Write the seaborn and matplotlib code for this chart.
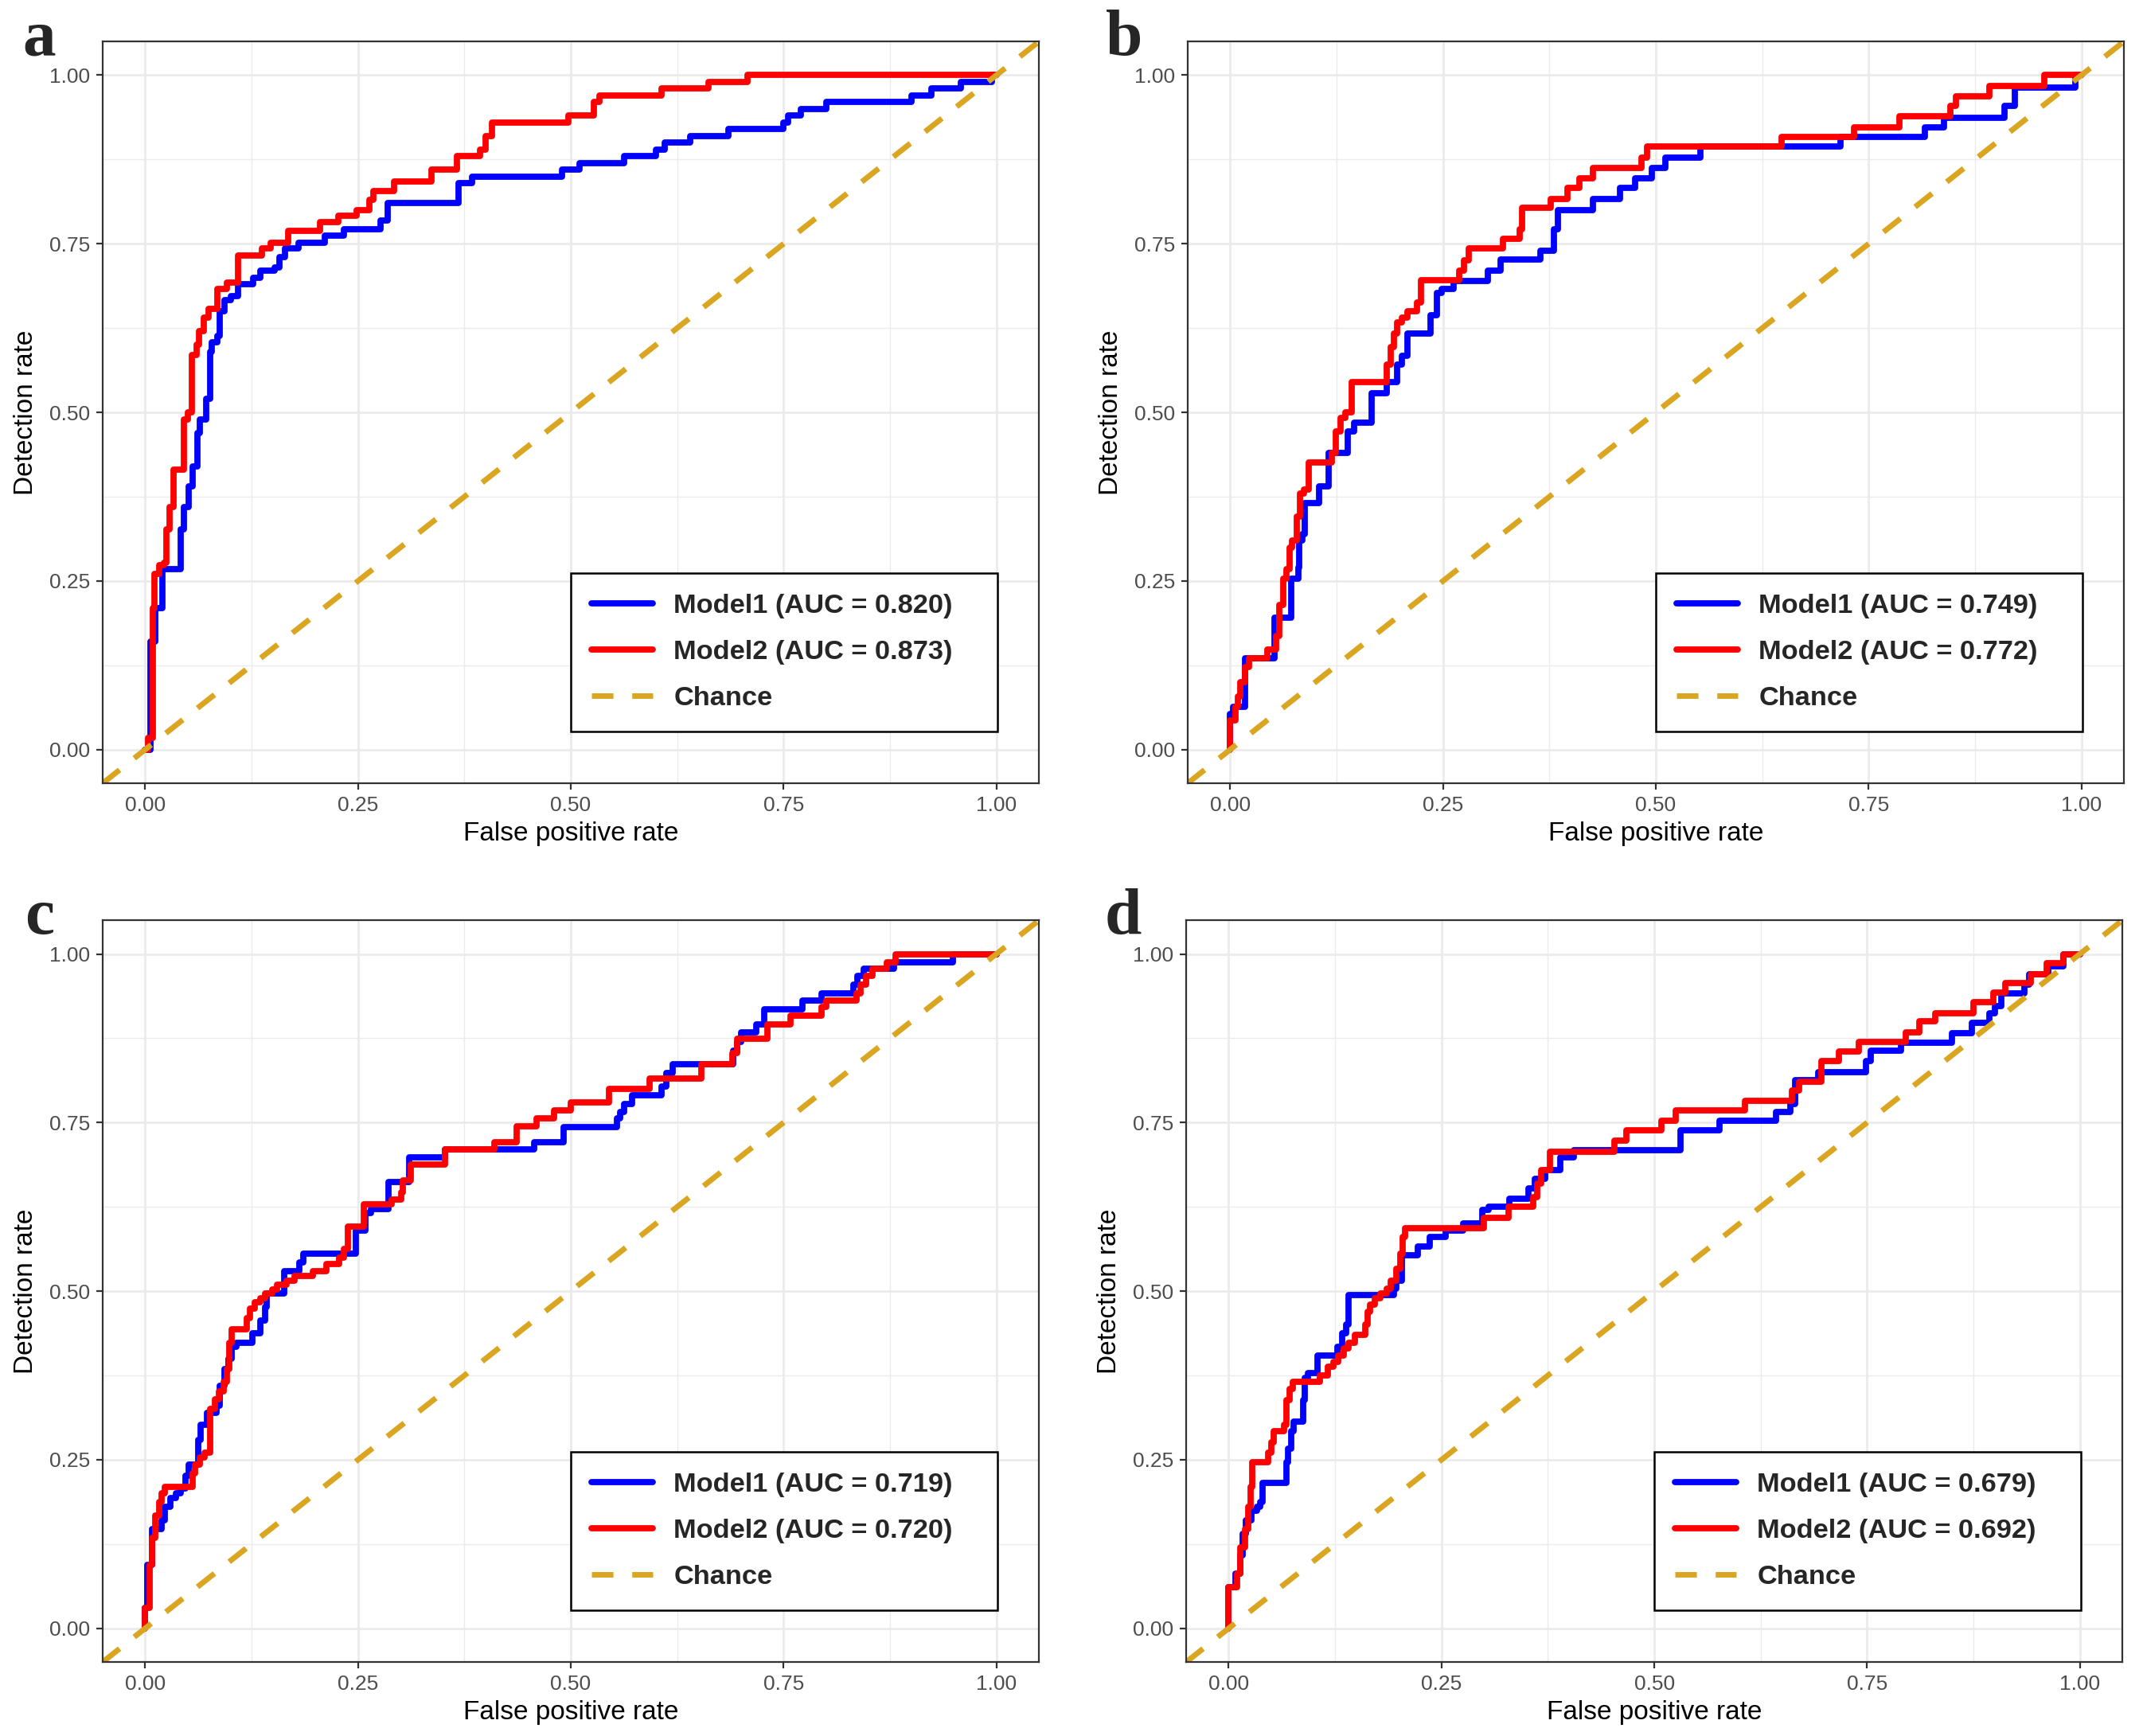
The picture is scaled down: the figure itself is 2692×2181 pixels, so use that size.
import numpy as np
import pandas as pd
import matplotlib
matplotlib.use("Agg")
from matplotlib import pyplot as plt
from matplotlib.ticker import MultipleLocator, FormatStrFormatter
import seaborn as sns

# ROC curves: each point is (fpr where the curve rises, tpr after the rise)
a_m1_fpr = [0, 0.006, 0.012, 0.020, 0.042, 0.045, 0.051, 0.056, 0.061, 0.064, 0.072, 0.076, 0.078, 0.085, 0.088, 0.093,
            0.101, 0.109, 0.127, 0.135, 0.152, 0.158, 0.164, 0.180, 0.211, 0.233, 0.276, 0.285, 0.368, 0.384, 0.490, 0.510,
            0.563, 0.600, 0.610, 0.640, 0.685, 0.750, 0.755, 0.770, 0.800, 0.900, 0.924, 0.958, 0.995, 1.0]
a_m1_tpr = [0, 0.160, 0.210, 0.267, 0.327, 0.360, 0.390, 0.420, 0.470, 0.490, 0.520, 0.590, 0.604, 0.614, 0.650, 0.667,
            0.673, 0.690, 0.700, 0.710, 0.715, 0.730, 0.743, 0.752, 0.762, 0.772, 0.785, 0.811, 0.840, 0.850, 0.860, 0.870,
            0.880, 0.890, 0.900, 0.910, 0.920, 0.930, 0.940, 0.950, 0.960, 0.970, 0.980, 0.990, 1.0, 1.0]
a_m2_fpr = [0, 0.003, 0.009, 0.011, 0.016, 0.022, 0.025, 0.029, 0.033, 0.045, 0.050, 0.055, 0.060, 0.063, 0.069, 0.074,
            0.085, 0.096, 0.109, 0.137, 0.147, 0.168, 0.205, 0.227, 0.248, 0.263, 0.268, 0.292, 0.336, 0.366, 0.393, 0.400,
            0.407, 0.497, 0.527, 0.534, 0.607, 0.662, 0.708, 1.0]
a_m2_tpr = [0, 0.017, 0.210, 0.260, 0.274, 0.277, 0.327, 0.360, 0.415, 0.490, 0.500, 0.585, 0.600, 0.620, 0.640, 0.654,
            0.683, 0.693, 0.733, 0.743, 0.752, 0.769, 0.782, 0.792, 0.800, 0.815, 0.828, 0.842, 0.860, 0.880, 0.890, 0.910,
            0.930, 0.940, 0.960, 0.970, 0.980, 0.990, 1.0, 1.0]

b_m1_fpr = [0, 0, 0.003, 0.017, 0.052, 0.072, 0.080, 0.081, 0.085, 0.088, 0.104, 0.116, 0.138, 0.146, 0.166, 0.184, 0.196,
            0.202, 0.208, 0.235, 0.243, 0.248, 0.262, 0.303, 0.318, 0.364, 0.380, 0.385, 0.426, 0.458, 0.476, 0.495,
            0.511, 0.552, 0.717, 0.816, 0.839, 0.910, 0.922, 0.993, 1.0]
b_m1_tpr = [0, 0.053, 0.063, 0.135, 0.195, 0.254, 0.270, 0.310, 0.320, 0.366, 0.390, 0.440, 0.472, 0.485, 0.528, 0.545,
            0.571, 0.584, 0.617, 0.644, 0.677, 0.683, 0.695, 0.710, 0.727, 0.740, 0.772, 0.800, 0.817, 0.833, 0.847,
            0.862, 0.878, 0.894, 0.908, 0.923, 0.937, 0.955, 0.982, 1.0, 1.0]
b_m2_fpr = [0, 0, 0.006, 0.009, 0.012, 0.017, 0.022, 0.044, 0.054, 0.058, 0.062, 0.066, 0.070, 0.073, 0.078, 0.082, 0.087,
            0.092, 0.119, 0.124, 0.130, 0.135, 0.143, 0.184, 0.189, 0.192, 0.196, 0.202, 0.208, 0.219, 0.224, 0.269,
            0.275, 0.280, 0.320, 0.340, 0.343, 0.377, 0.396, 0.410, 0.426, 0.483, 0.490, 0.648, 0.733, 0.786, 0.846,
            0.853, 0.892, 0.956, 1.0]
b_m2_tpr = [0, 0.043, 0.063, 0.079, 0.100, 0.122, 0.135, 0.148, 0.168, 0.215, 0.254, 0.267, 0.300, 0.310, 0.346, 0.380,
            0.386, 0.426, 0.440, 0.472, 0.492, 0.500, 0.545, 0.571, 0.597, 0.617, 0.634, 0.640, 0.650, 0.663, 0.696,
            0.710, 0.726, 0.743, 0.758, 0.772, 0.803, 0.817, 0.833, 0.847, 0.862, 0.878, 0.894, 0.908, 0.923, 0.939,
            0.955, 0.969, 0.984, 1.0, 1.0]

c_m1_fpr = [0, 0, 0.002, 0.008, 0.019, 0.023, 0.030, 0.036, 0.042, 0.047, 0.051, 0.062, 0.065, 0.073, 0.084, 0.088, 0.093,
            0.098, 0.102, 0.107, 0.126, 0.135, 0.141, 0.143, 0.163, 0.181, 0.186, 0.247, 0.259, 0.265, 0.286, 0.310,
            0.352, 0.457, 0.492, 0.554, 0.558, 0.563, 0.572, 0.607, 0.612, 0.620, 0.691, 0.695, 0.700, 0.718, 0.727,
            0.772, 0.795, 0.832, 0.837, 0.844, 0.880, 0.949, 1.0]
c_m1_tpr = [0, 0.030, 0.094, 0.147, 0.160, 0.180, 0.193, 0.200, 0.207, 0.226, 0.243, 0.280, 0.302, 0.320, 0.330, 0.360,
            0.385, 0.400, 0.418, 0.424, 0.438, 0.457, 0.477, 0.497, 0.530, 0.543, 0.556, 0.590, 0.616, 0.622, 0.662,
            0.698, 0.710, 0.721, 0.743, 0.756, 0.766, 0.778, 0.790, 0.804, 0.823, 0.837, 0.857, 0.870, 0.884, 0.896,
            0.918, 0.931, 0.941, 0.955, 0.967, 0.978, 0.988, 1.0, 1.0]
c_m2_fpr = [0, 0, 0.005, 0.008, 0.012, 0.016, 0.019, 0.023, 0.056, 0.059, 0.064, 0.070, 0.076, 0.082, 0.087, 0.092, 0.096,
            0.099, 0.102, 0.119, 0.123, 0.129, 0.135, 0.141, 0.149, 0.155, 0.166, 0.175, 0.197, 0.213, 0.228, 0.233,
            0.238, 0.257, 0.290, 0.301, 0.303, 0.312, 0.352, 0.410, 0.436, 0.460, 0.480, 0.500, 0.545, 0.593, 0.653,
            0.690, 0.695, 0.731, 0.758, 0.795, 0.800, 0.836, 0.840, 0.847, 0.854, 0.871, 0.882, 1.0]
c_m2_tpr = [0, 0.030, 0.094, 0.134, 0.167, 0.187, 0.200, 0.210, 0.230, 0.243, 0.253, 0.260, 0.325, 0.340, 0.352, 0.365,
            0.385, 0.424, 0.444, 0.460, 0.474, 0.484, 0.490, 0.497, 0.503, 0.510, 0.516, 0.523, 0.530, 0.540, 0.550,
            0.563, 0.596, 0.629, 0.636, 0.646, 0.664, 0.688, 0.710, 0.721, 0.745, 0.756, 0.768, 0.780, 0.800, 0.815,
            0.837, 0.853, 0.874, 0.896, 0.908, 0.921, 0.931, 0.941, 0.955, 0.967, 0.978, 0.988, 1.0, 1.0]

d_m1_fpr = [0, 0, 0.008, 0.014, 0.016, 0.020, 0.027, 0.033, 0.037, 0.040, 0.068, 0.070, 0.073, 0.076, 0.087, 0.089, 0.093,
            0.104, 0.128, 0.133, 0.138, 0.141, 0.194, 0.197, 0.203, 0.222, 0.236, 0.255, 0.275, 0.298, 0.305, 0.330,
            0.352, 0.360, 0.372, 0.390, 0.405, 0.531, 0.577, 0.643, 0.660, 0.665, 0.693, 0.749, 0.754, 0.790, 0.850,
            0.873, 0.894, 0.900, 0.908, 0.935, 0.940, 0.963, 0.981, 1.0]
d_m1_tpr = [0, 0.061, 0.081, 0.108, 0.140, 0.160, 0.174, 0.180, 0.187, 0.216, 0.246, 0.266, 0.292, 0.306, 0.339, 0.372,
            0.378, 0.405, 0.418, 0.438, 0.451, 0.494, 0.504, 0.515, 0.553, 0.566, 0.580, 0.590, 0.600, 0.621, 0.625,
            0.637, 0.652, 0.666, 0.680, 0.698, 0.709, 0.739, 0.753, 0.766, 0.778, 0.813, 0.825, 0.841, 0.857, 0.868,
            0.882, 0.898, 0.912, 0.923, 0.941, 0.955, 0.970, 0.982, 1.0, 1.0]
d_m2_fpr = [0, 0, 0.010, 0.014, 0.019, 0.023, 0.026, 0.028, 0.046, 0.050, 0.053, 0.065, 0.068, 0.072, 0.075, 0.107, 0.116,
            0.123, 0.129, 0.135, 0.141, 0.148, 0.160, 0.163, 0.166, 0.172, 0.178, 0.186, 0.190, 0.197, 0.202, 0.204,
            0.207, 0.300, 0.329, 0.358, 0.362, 0.367, 0.377, 0.453, 0.467, 0.508, 0.525, 0.607, 0.662, 0.670, 0.696,
            0.717, 0.740, 0.795, 0.811, 0.830, 0.875, 0.898, 0.912, 0.942, 0.961, 0.981, 1.0]
d_m2_tpr = [0, 0.061, 0.081, 0.120, 0.147, 0.180, 0.210, 0.246, 0.260, 0.276, 0.292, 0.302, 0.339, 0.355, 0.365, 0.375,
            0.388, 0.395, 0.405, 0.415, 0.424, 0.435, 0.451, 0.470, 0.480, 0.490, 0.497, 0.504, 0.515, 0.533, 0.556,
            0.580, 0.593, 0.609, 0.625, 0.639, 0.660, 0.680, 0.707, 0.723, 0.739, 0.753, 0.768, 0.782, 0.798, 0.811,
            0.841, 0.855, 0.870, 0.884, 0.900, 0.912, 0.929, 0.943, 0.957, 0.970, 0.986, 1.0, 1.0]

auc_model1 = [0.820, 0.749, 0.719, 0.679]
auc_model2 = [0.873, 0.772, 0.720, 0.692]
panel_letters = ["a", "b", "c", "d"]

sns.set_theme(style="white")
plt.rcParams["font.family"] = ["Liberation Sans", "DejaVu Sans"]

fig = plt.figure(figsize=(13.46, 10.905), dpi=200)

axes_rects = [(0.0479, 0.5488, 0.4369, 0.4273), (0.5542, 0.5488, 0.4369, 0.4273),
              (0.0479, 0.0426, 0.4369, 0.4273), (0.5535, 0.0426, 0.4369, 0.4273)]
letter_pos = [(0.0104, 0.9683), (0.5160, 0.9683), (0.0115, 0.4622), (0.5155, 0.4622)]

curves = [(a_m1_fpr, a_m1_tpr, a_m2_fpr, a_m2_tpr),
          (b_m1_fpr, b_m1_tpr, b_m2_fpr, b_m2_tpr),
          (c_m1_fpr, c_m1_tpr, c_m2_fpr, c_m2_tpr),
          (d_m1_fpr, d_m1_tpr, d_m2_fpr, d_m2_tpr)]

for i in range(4):
    ax = fig.add_axes(axes_rects[i])
    f1, t1, f2, t2 = curves[i]
    df1 = pd.DataFrame({"fpr": f1, "tpr": t1})
    df2 = pd.DataFrame({"fpr": f2, "tpr": t2})

    sns.lineplot(data=df1, x="fpr", y="tpr", ax=ax, color="#0000FF", linewidth=2.8, sort=False,
                 estimator=None, drawstyle="steps-post", label=f"Model1 (AUC = {auc_model1[i]:.3f})")
    sns.lineplot(data=df2, x="fpr", y="tpr", ax=ax, color="#FF0000", linewidth=2.8, sort=False,
                 estimator=None, drawstyle="steps-post", label=f"Model2 (AUC = {auc_model2[i]:.3f})")
    ax.axline((0, 0), slope=1, color="#DAA520", linewidth=2.5, dashes=(3.9, 3.4), label="Chance")

    ax.set_xlim(-0.05, 1.05)
    ax.set_ylim(-0.05, 1.05)
    for axis in (ax.xaxis, ax.yaxis):
        axis.set_major_locator(MultipleLocator(0.25))
        axis.set_minor_locator(MultipleLocator(0.125))
        axis.set_major_formatter(FormatStrFormatter("%.2f"))
    ax.grid(which="major", color="#EBEBEB", linewidth=1.0)
    ax.grid(which="minor", color="#EBEBEB", linewidth=0.5)
    ax.set_axisbelow(True)
    ax.tick_params(which="major", bottom=True, left=True, direction="out", length=2.75, width=0.8,
                   color="#333333", labelsize=9.5, labelcolor="#4D4D4D", pad=3)
    ax.tick_params(which="minor", length=0)
    for s in ax.spines.values():
        s.set_color("#333333")
        s.set_linewidth(0.8)

    ax.set_xlabel("False positive rate", fontsize=12, color="black", labelpad=3)
    ax.set_ylabel("Detection rate", fontsize=12, color="black", labelpad=5)

    leg = ax.legend(loc="lower left", bbox_to_anchor=(0.50, 0.07, 0.456, 0.22), mode="expand",
                    frameon=True, fancybox=False, edgecolor="black", framealpha=1,
                    prop={"weight": "bold", "size": 12.4}, handlelength=2.25, handletextpad=0.75,
                    labelspacing=0.78, borderpad=0.75, borderaxespad=0)
    leg.get_frame().set_linewidth(0.9)

    fig.text(letter_pos[i][0], letter_pos[i][1], panel_letters[i], family="Liberation Serif",
             weight="bold", fontsize=30, ha="left", va="baseline")

fig.savefig("out.png", dpi=200)
